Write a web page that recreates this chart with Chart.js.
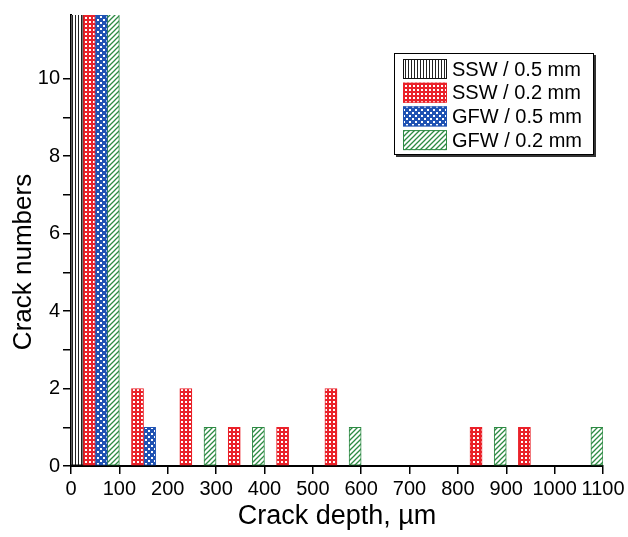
<!DOCTYPE html>
<html>
<head>
<meta charset="utf-8">
<script src="https://cdn.jsdelivr.net/npm/chart.js@4/dist/chart.umd.min.js"></script>
<style>
  html, body { margin: 0; padding: 0; background: #fff; }
  #wrap { width: 628px; height: 537px; }
</style>
</head>
<body>
<div id="wrap"><canvas id="chart" width="628" height="537"></canvas></div>
<script>
// crack depth (bin centres, µm) and crack counts per series
const sswHalfDepth = [12.5];
const sswHalfCount = [30];
const sswFifthDepth = [37.5, 137.5, 237.5, 337.5, 437.5, 537.5, 837.5, 937.5];
const sswFifthCount = [25, 2, 2, 1, 1, 2, 1, 1];
const gfwHalfDepth = [62.5, 162.5];
const gfwHalfCount = [20, 1];
const gfwFifthDepth = [87.5, 287.5, 387.5, 587.5, 887.5, 1087.5];
const gfwFifthCount = [18, 1, 1, 1, 1, 1];

const seriesLabels = ['SSW / 0.5 mm', 'SSW / 0.2 mm', 'GFW / 0.5 mm', 'GFW / 0.2 mm'];
const xTicks = [0, 100, 200, 300, 400, 500, 600, 700, 800, 900, 1000, 1100];
const yTicks = [0, 1, 2, 3, 4, 5, 6, 7, 8, 9, 10];
const yTitle = 'Crack numbers';

const FONT = "'Liberation Sans', Arial, sans-serif";

function makePattern(kind, color) {
    const c = document.createElement('canvas');
    const g = c.getContext('2d');
    if (kind === 'vline') {
        c.width = 3; c.height = 3;
        g.fillStyle = '#fff'; g.fillRect(0, 0, 3, 3);
        g.fillStyle = color; g.fillRect(0, 0, 1, 3);
    } else if (kind === 'grid') {
        c.width = 4; c.height = 4;
        g.fillStyle = color; g.fillRect(0, 0, 4, 4);
        g.fillStyle = '#fff'; g.fillRect(1, 1, 2, 2);
    } else if (kind === 'dots') {
        c.width = 6; c.height = 6;
        g.fillStyle = color; g.fillRect(0, 0, 6, 6);
        g.fillStyle = '#fff';
        g.fillRect(1, 1, 2, 2);
        g.fillRect(4, 4, 2, 2);
    } else {
        c.width = 5; c.height = 5;
        g.fillStyle = '#fff'; g.fillRect(0, 0, 5, 5);
        g.strokeStyle = color; g.lineWidth = 1.3;
        g.beginPath();
        g.moveTo(-1, 6); g.lineTo(6, -1);
        g.moveTo(-1, 1); g.lineTo(1, -1);
        g.moveTo(4, 6); g.lineTo(6, 4);
        g.stroke();
    }
    return g.createPattern(c, 'repeat');
}

const colors = ['#111111', '#ea2129', '#1f52b3', '#2d8a43'];
const patterns = [
    makePattern('vline', '#222'),
    makePattern('grid', colors[1]),
    makePattern('dots', colors[2]),
    makePattern('diag', colors[3])
];

function toPoints(xs, ys) {
    return xs.map((x, i) => ({ x: x, y: ys[i] }));
}

const extras = {
    id: 'extras',
    afterDraw(chart) {
        const ctx = chart.ctx;
        ctx.save();
        // y title, placed as in the original figure
        ctx.font = '26px ' + FONT;
        ctx.fillStyle = '#000';
        ctx.textAlign = 'center';
        ctx.textBaseline = 'middle';
        ctx.translate(24, 262);
        ctx.rotate(-Math.PI / 2);
        ctx.fillText(yTitle, 0, 0);
        ctx.restore();

        // legend inside plot area
        const bx = 394, by = 53, bw = 200, bh = 102;
        ctx.save();
        ctx.fillStyle = '#333';
        ctx.fillRect(bx + 2, by + 2, bw, bh);
        ctx.fillStyle = '#fff';
        ctx.fillRect(bx, by, bw, bh);
        ctx.strokeStyle = '#000';
        ctx.lineWidth = 1;
        ctx.strokeRect(bx + 0.5, by + 0.5, bw - 1, bh - 1);
        ctx.font = '20px ' + FONT;
        ctx.textBaseline = 'middle';
        chart.data.datasets.forEach((ds, i) => {
            const y = by + 6 + i * 23.7;
            ctx.fillStyle = ds.backgroundColor;
            ctx.fillRect(403, y, 44, 20);
            ctx.strokeStyle = ds.borderColor;
            ctx.strokeRect(403.5, y + 0.5, 43, 19);
            ctx.fillStyle = '#000';
            ctx.fillText(ds.label, 452, y + 11);
        });
        ctx.restore();
    }
};

const seriesX = [sswHalfDepth, sswFifthDepth, gfwHalfDepth, gfwFifthDepth];
const seriesY = [sswHalfCount, sswFifthCount, gfwHalfCount, gfwFifthCount];

const datasets = seriesLabels.map((label, i) => ({
    label: label,
    data: toPoints(seriesX[i], seriesY[i]),
    backgroundColor: patterns[i],
    borderColor: colors[i],
    borderWidth: 1,
    borderSkipped: false,
    grouped: false,
    categoryPercentage: 1,
    barPercentage: 1
}));

new Chart(document.getElementById('chart'), {
    type: 'bar',
    data: { datasets: datasets },
    plugins: [extras],
    options: {
        responsive: false,
        animation: false,
        layout: { padding: { top: 12, right: 25, left: 0, bottom: 0 } },
        plugins: {
            legend: { display: false },
            tooltip: { enabled: false }
        },
        scales: {
            x: {
                type: 'linear',
                min: 0,
                max: 1100,
                offset: false,
                grid: { display: true, offset: false, drawOnChartArea: false, drawTicks: true, tickLength: 8, color: '#000', lineWidth: 1.5 },
                border: { display: true, color: '#000', width: 2 },
                afterBuildTicks: (scale) => { scale.ticks = xTicks.map(v => ({ value: v })); },
                ticks: {
                    color: '#000', font: { family: FONT, size: 20 }, padding: 3,
                    maxRotation: 0, autoSkip: false,
                    callback: (v) => String(v)
                },
                title: { display: true, text: 'Crack depth, \u00b5m', color: '#000', font: { family: FONT, size: 27 }, padding: { top: 0, bottom: 4 } },
                afterFit: (scale) => { scale.height = 71; }
            },
            y: {
                min: 0,
                max: 11.64,
                grid: { display: true, drawOnChartArea: false, drawTicks: true, tickLength: 8, color: '#000', lineWidth: 1.5 },
                border: { display: true, color: '#000', width: 2 },
                afterBuildTicks: (scale) => { scale.ticks = yTicks.map(v => ({ value: v })); },
                ticks: {
                    color: '#000',
                    padding: 3,
                    font: { family: FONT, size: 20 },
                    callback: (v) => (v % 2 === 0 ? String(v) : '')
                },
                afterFit: (scale) => { scale.width = 71; }
            }
        }
    }
});
</script>
</body>
</html>
